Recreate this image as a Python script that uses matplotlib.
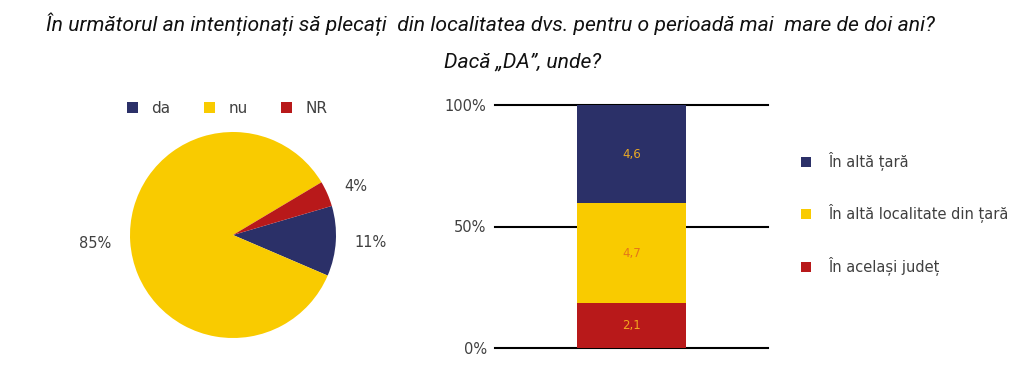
import matplotlib
matplotlib.use("Agg")
import matplotlib.pyplot as plt
from matplotlib.patches import Patch

# date
pie_labels = ['da', 'nu', 'NR']
pie_values = [11, 85, 4]
pie_colors = ['#2B3068', '#F9CB00', '#B8191A']

bar_labels = ['În același județ', 'În altă localitate din țară', 'În altă țară']
bar_values = [2.1, 4.7, 4.6]
bar_colors = ['#B8191A', '#F9CB00', '#2B3068']
bar_text_colors = ['#F3A51E', '#E4761A', '#E9A825']

title_1 = 'În următorul an intenționați să plecați  din localitatea dvs. pentru o perioadă mai  mare de doi ani?'
title_2 = 'Dacă „DA”, unde?'

plt.rcParams['font.family'] = ['DejaVu Sans']
grey = '#404040'
title_font = ['Roboto', 'DejaVu Sans']

fig = plt.figure(figsize=(10.24, 3.67), dpi=100)
fig.patch.set_facecolor('white')

fig.text(0.479, 0.935, title_1, ha='center', va='center', fontsize=15.2, style='italic',
         family=title_font, color='#111111')
fig.text(0.51, 0.832, title_2, ha='center', va='center', fontsize=15.2, style='italic',
         family=title_font, color='#111111')

# pie
ax1 = fig.add_axes([(233 - 103) / 1024, (367 - 235 - 103) / 367, 206 / 1024, 206 / 367])
texts = [str(v) + '%' for v in pie_values]
wedges, lbls = ax1.pie(pie_values, colors=pie_colors, startangle=16.4, counterclock=False,
                       labels=texts, labeldistance=1.18,
                       textprops={'fontsize': 10.5, 'color': grey})
ax1.set_xlim(-1, 1)
ax1.set_ylim(-1, 1)
ax1.set_aspect('equal')

handles = [Patch(facecolor=c, edgecolor='none') for c in pie_colors]
fig.legend(handles, pie_labels, loc='center', bbox_to_anchor=(0.222, 0.705), ncol=3,
           frameon=False, fontsize=11, handlelength=0.7, handleheight=0.7,
           handletextpad=0.9, columnspacing=2.2, labelcolor=grey)

# stacked bar
ax2 = fig.add_axes([495 / 1024, 1 - 348 / 367, 273 / 1024, (348 - 105) / 367])
total = sum(bar_values)
bottom = 0
for v, c, tc in zip(bar_values, bar_colors, bar_text_colors):
    h = v / total * 100
    ax2.bar(0, h, width=0.4, bottom=bottom, color=c, zorder=2)
    ax2.text(0, bottom + h / 2, str(v).replace('.', ','), ha='center', va='center',
             fontsize=8.5, color=tc, zorder=3)
    bottom += h
ax2.set_xlim(-0.5, 0.5)
ax2.set_ylim(0, 100)
ax2.set_yticks([0, 50, 100])
ax2.set_yticklabels(['0%', '50%', '100%'])
ax2.set_xticks([])
ax2.tick_params(axis='y', length=0, pad=6, labelsize=10.5, labelcolor=grey)
ax2.grid(axis='y', color='black', linewidth=1.5, zorder=1)
ax2.set_axisbelow(True)
for line in ax2.get_ygridlines():
    line.set_clip_on(False)
for s in ax2.spines.values():
    s.set_visible(False)

handles2 = [Patch(facecolor=c, edgecolor='none') for c in bar_colors[::-1]]
fig.legend(handles2, bar_labels[::-1], loc='upper left', bbox_to_anchor=(0.769, 0.622),
           frameon=False, fontsize=10.5, handlelength=0.7, handleheight=0.7,
           handletextpad=1.2, labelspacing=2.3, labelcolor=grey)

fig.savefig('out.png', dpi=100, facecolor='white')
